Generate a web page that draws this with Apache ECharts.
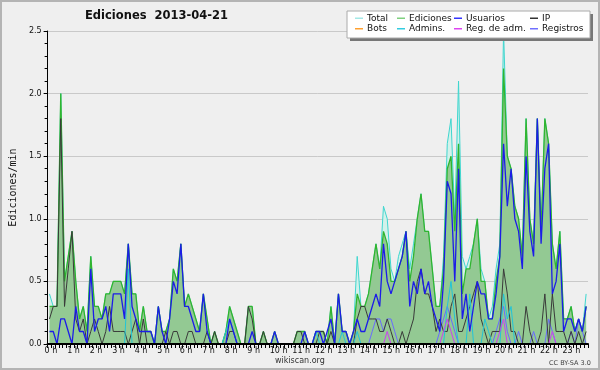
<!DOCTYPE html>
<html><head><meta charset="utf-8">
<script src="https://cdn.jsdelivr.net/npm/echarts@6/dist/echarts.min.js"></script>
<style>html,body{margin:0;padding:0;background:#efefef}#c{width:600px;height:370px}</style>
</head><body><div id="c"></div>
<script>
// 10-minute slots of 2013-04-21
const slots = [];
for (let h = 0; h < 24; h++) for (let m = 0; m < 60; m += 10) slots.push(h + ':' + String(m).padStart(2, '0'));
const hourLabels = Array.from({length: 24}, (_, h) => h + ' h');

const ediciones = [
0.3,0.3,0.3,2.0,0.5,0.7, 0.9,0.5,0.2,0.3,0.1,0.7, 0.3,0.3,0.2,0.4,0.4,0.5, 0.5,0.5,0.4,0.8,0.4,0.4,
0.1,0.3,0.1,0.1,0.0,0.3, 0.1,0.1,0.2,0.6,0.5,0.8, 0.3,0.4,0.3,0.2,0.1,0.4, 0.2,0.0,0.1,0.0,0.0,0.1,
0.3,0.2,0.1,0.0,0.0,0.3, 0.3,0.0,0.0,0.1,0.0,0.0, 0.1,0.0,0.0,0.0,0.0,0.0, 0.1,0.1,0.1,0.0,0.0,0.1,
0.1,0.1,0.0,0.3,0.0,0.4, 0.1,0.1,0.0,0.1,0.4,0.3, 0.3,0.4,0.6,0.8,0.6,0.9, 0.8,0.5,0.5,0.6,0.7,0.9,
0.5,0.7,1.0,1.2,0.9,0.9, 0.6,0.3,0.3,0.6,1.4,1.5, 0.9,1.6,0.4,0.6,0.6,0.8, 1.0,0.5,0.5,0.2,0.2,0.5,
0.7,2.2,1.5,1.4,1.1,1.0, 0.7,1.8,1.0,0.8,1.8,0.9, 1.8,1.6,0.8,0.6,0.9,0.2, 0.2,0.3,0.1,0.2,0.1,0.3];

const total = [
0.4,0.3,0.3,2.0,0.5,0.7, 0.9,0.5,0.2,0.3,0.1,0.7, 0.3,0.3,0.2,0.4,0.4,0.5, 0.5,0.5,0.4,0.8,0.4,0.4,
0.1,0.3,0.1,0.1,0.0,0.3, 0.1,0.1,0.2,0.6,0.5,0.8, 0.3,0.4,0.3,0.2,0.1,0.4, 0.2,0.0,0.1,0.0,0.0,0.1,
0.3,0.2,0.1,0.0,0.0,0.3, 0.3,0.0,0.0,0.1,0.0,0.0, 0.1,0.0,0.0,0.0,0.0,0.0, 0.1,0.1,0.1,0.0,0.0,0.1,
0.1,0.1,0.0,0.3,0.0,0.4, 0.1,0.1,0.0,0.1,0.7,0.3, 0.3,0.4,0.6,0.8,0.6,1.1, 1.0,0.6,0.5,0.7,0.8,0.9,
0.6,0.8,1.0,1.2,0.9,0.9, 0.6,0.3,0.3,0.7,1.6,1.8, 1.0,2.1,0.7,0.6,0.7,0.8, 1.0,0.6,0.5,0.2,0.3,0.6,
0.8,2.5,1.5,1.4,1.1,1.0, 0.7,1.8,1.0,0.8,1.8,0.9, 1.8,1.6,0.8,0.6,0.9,0.2, 0.2,0.3,0.1,0.2,0.1,0.4];

const usuarios = [
0.1,0.1,0.0,0.2,0.2,0.1, 0.0,0.3,0.1,0.1,0.0,0.6, 0.1,0.2,0.2,0.3,0.1,0.4, 0.4,0.4,0.2,0.8,0.3,0.2,
0.1,0.1,0.1,0.1,0.0,0.3, 0.1,0.0,0.2,0.5,0.4,0.8, 0.3,0.3,0.2,0.1,0.1,0.4, 0.1,0.0,0.0,0.0,0.0,0.0,
0.2,0.1,0.0,0.0,0.0,0.0, 0.1,0.0,0.0,0.0,0.0,0.0, 0.1,0.0,0.0,0.0,0.0,0.0, 0.0,0.0,0.1,0.0,0.0,0.1,
0.1,0.0,0.1,0.2,0.0,0.4, 0.1,0.1,0.0,0.1,0.2,0.1, 0.1,0.2,0.3,0.4,0.3,0.8, 0.5,0.4,0.5,0.6,0.7,0.9,
0.3,0.5,0.4,0.6,0.4,0.5, 0.3,0.2,0.1,0.5,1.3,1.2, 0.5,1.4,0.2,0.4,0.1,0.3, 0.5,0.4,0.4,0.2,0.2,0.4,
0.7,1.6,1.1,1.4,1.0,0.9, 0.6,1.5,0.9,0.7,1.8,0.8, 1.4,1.6,0.4,0.5,0.8,0.1, 0.2,0.2,0.1,0.2,0.1,0.3];

const ip = [
0.2,0.3,0.3,1.8,0.3,0.6, 0.9,0.2,0.1,0.2,0.0,0.1, 0.2,0.1,0.0,0.1,0.3,0.1, 0.1,0.1,0.1,0.0,0.1,0.2,
0.0,0.2,0.0,0.0,0.0,0.0, 0.0,0.1,0.0,0.1,0.1,0.0, 0.0,0.1,0.1,0.0,0.0,0.0, 0.1,0.0,0.1,0.0,0.0,0.0,
0.1,0.1,0.0,0.0,0.0,0.3, 0.2,0.0,0.0,0.1,0.0,0.0, 0.0,0.0,0.0,0.0,0.0,0.0, 0.1,0.1,0.0,0.0,0.0,0.0,
0.1,0.1,0.0,0.1,0.0,0.0, 0.0,0.0,0.0,0.0,0.2,0.3, 0.3,0.2,0.2,0.2,0.1,0.1, 0.2,0.1,0.0,0.0,0.1,0.0,
0.1,0.2,0.5,0.6,0.4,0.4, 0.3,0.1,0.2,0.1,0.1,0.3, 0.4,0.1,0.1,0.2,0.3,0.4, 0.5,0.2,0.1,0.0,0.1,0.1,
0.1,0.6,0.4,0.1,0.1,0.0, 0.0,0.3,0.1,0.0,0.0,0.1, 0.4,0.0,0.4,0.1,0.1,0.1, 0.0,0.1,0.0,0.1,0.0,0.1];

const bots = new Array(144).fill(0);

const admins = [
0,0,0,0,0,0, 0,0,0,0,0,0, 0,0,0,0,0,0, 0,0,0,0.6,0,0,
0,0,0,0,0,0, 0,0,0,0,0,0, 0,0,0,0,0,0, 0,0,0,0,0,0.1,
0.2,0.1,0,0,0,0, 0,0,0,0,0,0, 0,0,0,0,0,0, 0,0,0,0,0,0.1,
0,0,0,0,0,0, 0.1,0,0,0,0.1,0, 0,0,0,0,0,0, 0,0,0,0,0,0,
0,0,0,0,0,0, 0,0,0,0,0.3,0.5, 0.2,0,0,0,0.4,0, 0,0,0.2,0.1,0,0,
0,0.4,0.2,0.3,0,0, 0,0,0,0,0,0, 0,0,0,0,0,0, 0,0,0,0,0,0];

const regAdm = [
0,0,0,0,0,0, 0,0,0,0,0,0, 0,0,0,0,0,0, 0,0,0,0,0,0,
0,0,0,0,0,0, 0,0,0,0,0,0, 0,0,0,0,0,0, 0,0,0,0,0,0,
0,0,0,0,0,0, 0,0,0,0,0,0, 0,0,0,0,0,0, 0,0,0,0,0,0,
0,0,0,0,0,0, 0,0,0,0,0,0, 0,0,0,0,0,0, 0.1,0,0,0,0,0,
0,0,0,0,0,0, 0,0,0,0.1,0.2,0.1, 0,0,0,0,0,0, 0,0,0,0,0,0,
0.1,0.2,0,0,0,0, 0,0,0,0,0,0, 0,0,0.1,0,0,0, 0,0,0,0,0,0];

const registros = [
0,0,0,0,0,0, 0,0,0,0,0,0, 0,0,0,0,0,0, 0,0,0,0,0,0,
0,0,0,0,0,0, 0,0,0,0,0,0, 0,0,0,0,0,0, 0,0,0,0,0,0,
0,0,0,0,0,0, 0,0,0,0,0,0, 0,0,0,0,0,0, 0,0,0,0,0,0,
0,0,0,0,0,0, 0,0,0,0,0,0, 0,0,0.1,0.2,0.2,0.1, 0.2,0.2,0.1,0,0,0,
0,0,0,0,0,0, 0,0,0.1,0.2,0.3,0.2, 0.1,0,0,0,0,0, 0,0,0,0,0,0.1,
0.2,0.3,0.1,0,0,0.1, 0,0,0,0.1,0,0, 0,0.2,0.1,0,0,0, 0,0.1,0,0.2,0.1,0];

const FONT = "'DejaVu Sans', sans-serif";

function line(name, data, legendColor, lineColor, width, z, area) {
  const s = {
    name, type: 'line', data, xAxisIndex: 0, yAxisIndex: 0, symbol: 'none',
    itemStyle: {color: legendColor},
    lineStyle: {color: lineColor, width},
    z, silent: true, emphasis: {disabled: true}
  };
  if (area) s.areaStyle = {color: area, opacity: 1};
  return s;
}

const legendCols = [
  {left: 355, names: ['Total', 'Bots']},
  {left: 397, names: ['Ediciones', 'Admins.']},
  {left: 454, names: ['Usuarios', 'Reg. de adm.']},
  {left: 530, names: ['IP', 'Registros']}
];

const chart = echarts.init(document.getElementById('c'), null, {renderer: 'canvas'});
chart.setOption({
  animation: false,
  backgroundColor: '#efefef',
  title: [
    {text: 'Ediciones  2013-04-21', left: 85, top: 10, padding: 0,
     textStyle: {fontFamily: FONT, fontWeight: 'bold', fontSize: 11.5, color: '#111'}},
    {text: 'wikiscan.org', left: 275, top: 357, padding: 0,
     textStyle: {fontFamily: FONT, fontWeight: 'normal', fontSize: 8, color: '#333'}},
    {text: 'CC BY-SA 3.0', left: 549, top: 360, padding: 0,
     textStyle: {fontFamily: FONT, fontWeight: 'normal', fontSize: 6.5, color: '#444'}}
  ],
  legend: legendCols.map(c => ({
    orient: 'vertical', left: c.left, top: 13, padding: 0, itemGap: 0,
    data: c.names, icon: 'rect', itemWidth: 8, itemHeight: 1.5,
    selectedMode: false, z: 20,
    textStyle: {fontFamily: FONT, fontSize: 9, color: '#111', lineHeight: 10.5, padding: [0, 0, 0, -1]}
  })),
  graphic: [
    {type: 'rect', z: 15, shape: {x: 350, y: 14, width: 243, height: 27}, style: {fill: '#777'}},
    {type: 'rect', z: 16, shape: {x: 347, y: 11, width: 243, height: 27}, style: {fill: '#fff', stroke: '#aaa', lineWidth: 1}},
    {type: 'rect', z: 30, shape: {x: 1, y: 1, width: 598, height: 368}, style: {fill: 'none', stroke: '#b4b4b4', lineWidth: 2}}
  ],
  grid: {left: 41, right: 12, top: 31, bottom: 26},
  xAxis: [
    {type: 'category', data: slots, boundaryGap: true, show: false},
    {type: 'value', min: 0, max: 24, interval: 1, position: 'bottom', z: 8,
     axisLine: {show: true, lineStyle: {color: '#000', width: 2}},
     axisTick: {show: true, length: 4, lineStyle: {color: '#000', width: 1}},
     minorTick: {show: true, splitNumber: 6, length: 4, lineStyle: {color: '#000', width: 1}},
     splitLine: {show: false},
     axisLabel: {formatter: v => (v < 24 ? hourLabels[v] : ''), align: 'left', padding: [0, 0, 0, -3], margin: 3,
                 fontFamily: FONT, fontSize: 8, color: '#111'}}
  ],
  yAxis: {
    type: 'value', min: 0, max: 2.5, interval: 0.5,
    name: 'Ediciones/min', nameLocation: 'middle', nameGap: 29, nameRotate: 90,
    nameTextStyle: {fontFamily: "'DejaVu Sans Mono', monospace", fontSize: 10, color: '#111'},
    axisLine: {show: true, lineStyle: {color: '#000', width: 1}},
    axisTick: {show: true, length: 4, lineStyle: {color: '#000'}},
    minorTick: {show: true, splitNumber: 5, length: 3, lineStyle: {color: '#000'}},
    axisLabel: {formatter: v => v.toFixed(1), fontFamily: FONT, fontSize: 8, color: '#111', margin: 6},
    splitLine: {lineStyle: {color: '#c9c9c9', width: 1}}
  },
  series: [
    line('Total', total, '#a3e8e6', '#3fd6cf', 1, 1, '#d3f1ea'),
    line('Ediciones', ediciones, '#7fd07f', '#30b530', 1.3, 2, '#93c993'),
    line('Bots', bots, '#ffa030', '#ffa030', 1, 3),
    line('Registros', registros, '#7070ff', '#6a6aff', 1, 3),
    line('IP', ip, '#333333', '#3a3a3a', 1, 4),
    line('Admins.', admins, '#33cce0', '#22c4d8', 1, 4),
    line('Reg. de adm.', regAdm, '#dd44f0', '#cc40f0', 1, 5),
    line('Usuarios', usuarios, '#3535ff', '#1c1ce8', 1.3, 6)
  ]
});
</script></body></html>
